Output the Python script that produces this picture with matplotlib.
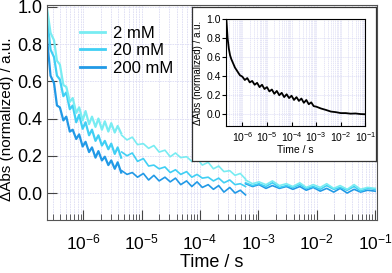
import matplotlib
matplotlib.use("Agg")
import matplotlib.pyplot as plt
import numpy as np
from matplotlib.ticker import LogLocator, NullFormatter

plt.rcParams['font.family'] = ['Liberation Sans', 'DejaVu Sans']
plt.rcParams['mathtext.default'] = 'regular'

# time axes (log10 of seconds), one list per recording window
t1 = [-6.62, -6.56, -6.50, -6.45, -6.40, -6.34, -6.29, -6.23, -6.18, -6.12, -6.07, -6.01,
      -5.96, -5.90, -5.85, -5.79, -5.74, -5.68, -5.63, -5.57, -5.52, -5.46, -5.41, -5.35]
t2 = [-5.34, -5.25, -5.16, -5.07, -4.97, -4.88, -4.79, -4.70, -4.60, -4.51, -4.42, -4.33,
      -4.23, -4.14, -4.05, -3.96, -3.86, -3.77, -3.68, -3.59, -3.49, -3.40, -3.31, -3.22]
t3 = [-3.22, -3.10, -2.99, -2.87, -2.76, -2.64, -2.52, -2.41, -2.29, -2.18,
      -2.06, -1.94, -1.83, -1.71, -1.60, -1.48, -1.36, -1.25, -1.13, -1.00]

# 2 mM
a1 = [0.99, 0.86, 0.82, 0.71, 0.69, 0.58, 0.57, 0.49, 0.51, 0.43, 0.46, 0.39,
      0.44, 0.37, 0.41, 0.355, 0.40, 0.34, 0.385, 0.33, 0.375, 0.325, 0.36, 0.32]
a2 = [0.31, 0.285, 0.30, 0.26, 0.265, 0.24, 0.255, 0.22, 0.23, 0.195, 0.215, 0.19,
      0.195, 0.17, 0.185, 0.15, 0.165, 0.13, 0.145, 0.115, 0.12, 0.095, 0.105, 0.075]
a3 = [0.07, 0.05, 0.06, 0.045, 0.065, 0.04, 0.05, 0.035, 0.055, 0.03,
      0.045, 0.03, 0.05, 0.025, 0.04, 0.02, 0.045, 0.02, 0.03, 0.025]
# 20 mM
b1 = [0.95, 0.77, 0.73, 0.63, 0.61, 0.52, 0.54, 0.45, 0.47, 0.38, 0.42, 0.345,
      0.38, 0.31, 0.34, 0.28, 0.31, 0.255, 0.28, 0.235, 0.265, 0.21, 0.245, 0.19]
b2 = [0.22, 0.20, 0.215, 0.17, 0.185, 0.145, 0.15, 0.13, 0.14, 0.11, 0.125, 0.10,
      0.115, 0.085, 0.10, 0.08, 0.085, 0.065, 0.08, 0.055, 0.07, 0.045, 0.05, 0.035]
b3 = [0.055, 0.04, 0.05, 0.035, 0.055, 0.03, 0.04, 0.03, 0.045, 0.025,
      0.035, 0.02, 0.04, 0.02, 0.03, 0.015, 0.035, 0.01, 0.025, 0.02]
# 200 mM
c1 = [0.83, 0.63, 0.59, 0.47, 0.46, 0.39, 0.41, 0.33, 0.34, 0.29, 0.315, 0.25,
      0.275, 0.22, 0.245, 0.19, 0.225, 0.175, 0.195, 0.15, 0.175, 0.13, 0.165, 0.11]
c2 = [0.12, 0.10, 0.11, 0.085, 0.105, 0.07, 0.095, 0.065, 0.085, 0.06, 0.08, 0.045,
      0.065, 0.035, 0.06, 0.03, 0.045, 0.02, 0.04, 0.005, 0.03, 0.0, 0.015, -0.01]
c3 = [0.05, 0.035, 0.045, 0.025, 0.04, 0.025, 0.035, 0.02, 0.035, 0.015,
      0.03, 0.01, 0.025, 0.005, 0.025, 0.0, 0.02, 0.005, 0.015, 0.01]

labels = ['2 mM', '20 mM', '200 mM']
colors = ['#78ecf2', '#40cff4', '#2199e6']

# inset trace
t_in = [-6.65, -6.60, -6.55, -6.50, -6.45, -6.40, -6.30, -6.20, -6.10, -6.00,
        -5.90, -5.80, -5.70, -5.60, -5.50, -5.40, -5.30, -5.20, -5.10, -5.00,
        -4.90, -4.80, -4.70, -4.60, -4.50, -4.40, -4.30, -4.20, -4.10, -4.00,
        -3.90, -3.80, -3.70, -3.60, -3.50, -3.40, -3.30, -3.20, -3.10, -3.00,
        -2.80, -2.60, -2.40, -2.20, -2.00, -1.80, -1.60, -1.40, -1.20, -1.00]
v_in = [1.0, 0.80, 0.69, 0.62, 0.58, 0.55, 0.49, 0.45, 0.41, 0.395,
        0.36, 0.38, 0.335, 0.35, 0.31, 0.33, 0.285, 0.31, 0.265, 0.285,
        0.24, 0.26, 0.215, 0.245, 0.20, 0.225, 0.18, 0.21, 0.17, 0.195,
        0.15, 0.18, 0.14, 0.165, 0.12, 0.15, 0.105, 0.125, 0.085, 0.08,
        0.06, 0.045, 0.028, 0.022, 0.012, 0.012, 0.006, 0.008, 0.002, 0.0]

fig = plt.figure(figsize=(3.92, 2.73), dpi=100)
ax = fig.add_axes([0.12, 0.194, 0.842, 0.788])

series = [(a1, a2, a3), (b1, b2, b3), (c1, c2, c3)]
widths = [1.6, 1.2, 1.2]
for i in [2, 1, 0]:
    for tt, vv, w in zip((t1, t2, t3), series[i], widths):
        ax.plot(10 ** np.array(tt), vv, color=colors[i], lw=w)
# legend handles
for i in range(3):
    ax.plot([], [], color=colors[i], lw=2, label=labels[i])

ax.set_xscale('log')
ax.set_xlim(2.4e-7, 0.108)
ax.set_ylim(-0.145, 1.01)
ax.set_yticks([0.0, 0.2, 0.4, 0.6, 0.8, 1.0])
ax.xaxis.set_major_locator(LogLocator(base=10, numticks=20))
ax.xaxis.set_minor_locator(LogLocator(base=10, subs=np.arange(2, 10), numticks=20))
ax.xaxis.set_minor_formatter(NullFormatter())
ax.tick_params(which='both', direction='in', labelsize=13, colors='#444444', labelcolor='black')
ax.tick_params(axis='x', labelsize=12.5, pad=9)
ax.tick_params(which='major', length=7)
ax.tick_params(which='minor', length=4)
for s in ax.spines.values():
    s.set_color('#555555')
ax.grid(True, which='both', axis='x', color='#dcdcf4', lw=0.6, ls=(0, (2, 1)))
ax.grid(True, which='major', axis='y', color='#dcdcf4', lw=0.6, ls=(0, (2, 1)))
ax.set_axisbelow(True)
ax.set_xlabel('Time / s', fontsize=13, labelpad=1)
ax.set_ylabel('ΔAbs (normalized) / a.u.', fontsize=11)
ax.yaxis.set_label_coords(-0.1, 0.47)
ax.legend(loc='upper left', bbox_to_anchor=(0.08, 0.935), frameon=False, fontsize=12,
          handlelength=1.5, handletextpad=0.5, labelspacing=0.15, borderaxespad=0)

# white box behind inset
box = fig.add_axes([0.49, 0.41, 0.47, 0.564])
box.set_xticks([])
box.set_yticks([])
for s in box.spines.values():
    s.set_color('#333333')
    s.set_linewidth(0.9)

ins = fig.add_axes([0.577, 0.538, 0.355, 0.392])
ins.plot(10 ** np.array(t_in), v_in, color='black', lw=1.3)
ins.set_xscale('log')
ins.set_xlim(2.2e-7, 0.1)
ins.set_ylim(-0.125, 1.0)
ins.set_yticks([0.0, 0.2, 0.4, 0.6, 0.8, 1.0])
ins.xaxis.set_major_locator(LogLocator(base=10, numticks=20))
ins.xaxis.set_minor_locator(LogLocator(base=10, subs=np.arange(2, 10), numticks=20))
ins.xaxis.set_minor_formatter(NullFormatter())
ins.tick_params(axis='x', which='major', direction='in', length=3, labelsize=7.5, pad=3)
ins.tick_params(axis='x', which='minor', length=0)
ins.tick_params(axis='y', direction='out', length=3, labelsize=7.5, pad=1)
ins.grid(True, which='both', axis='x', color='#dcdcf4', lw=0.5, ls=(0, (2, 1)))
ins.grid(True, which='major', axis='y', color='#dcdcf4', lw=0.5, ls=(0, (2, 1)))
ins.set_axisbelow(True)
ins.set_xlabel('Time / s', fontsize=7.5, labelpad=1)
ins.set_ylabel('ΔAbs (normalized) / a.u.', fontsize=7, labelpad=2)

fig.savefig('out.png', dpi=100)
